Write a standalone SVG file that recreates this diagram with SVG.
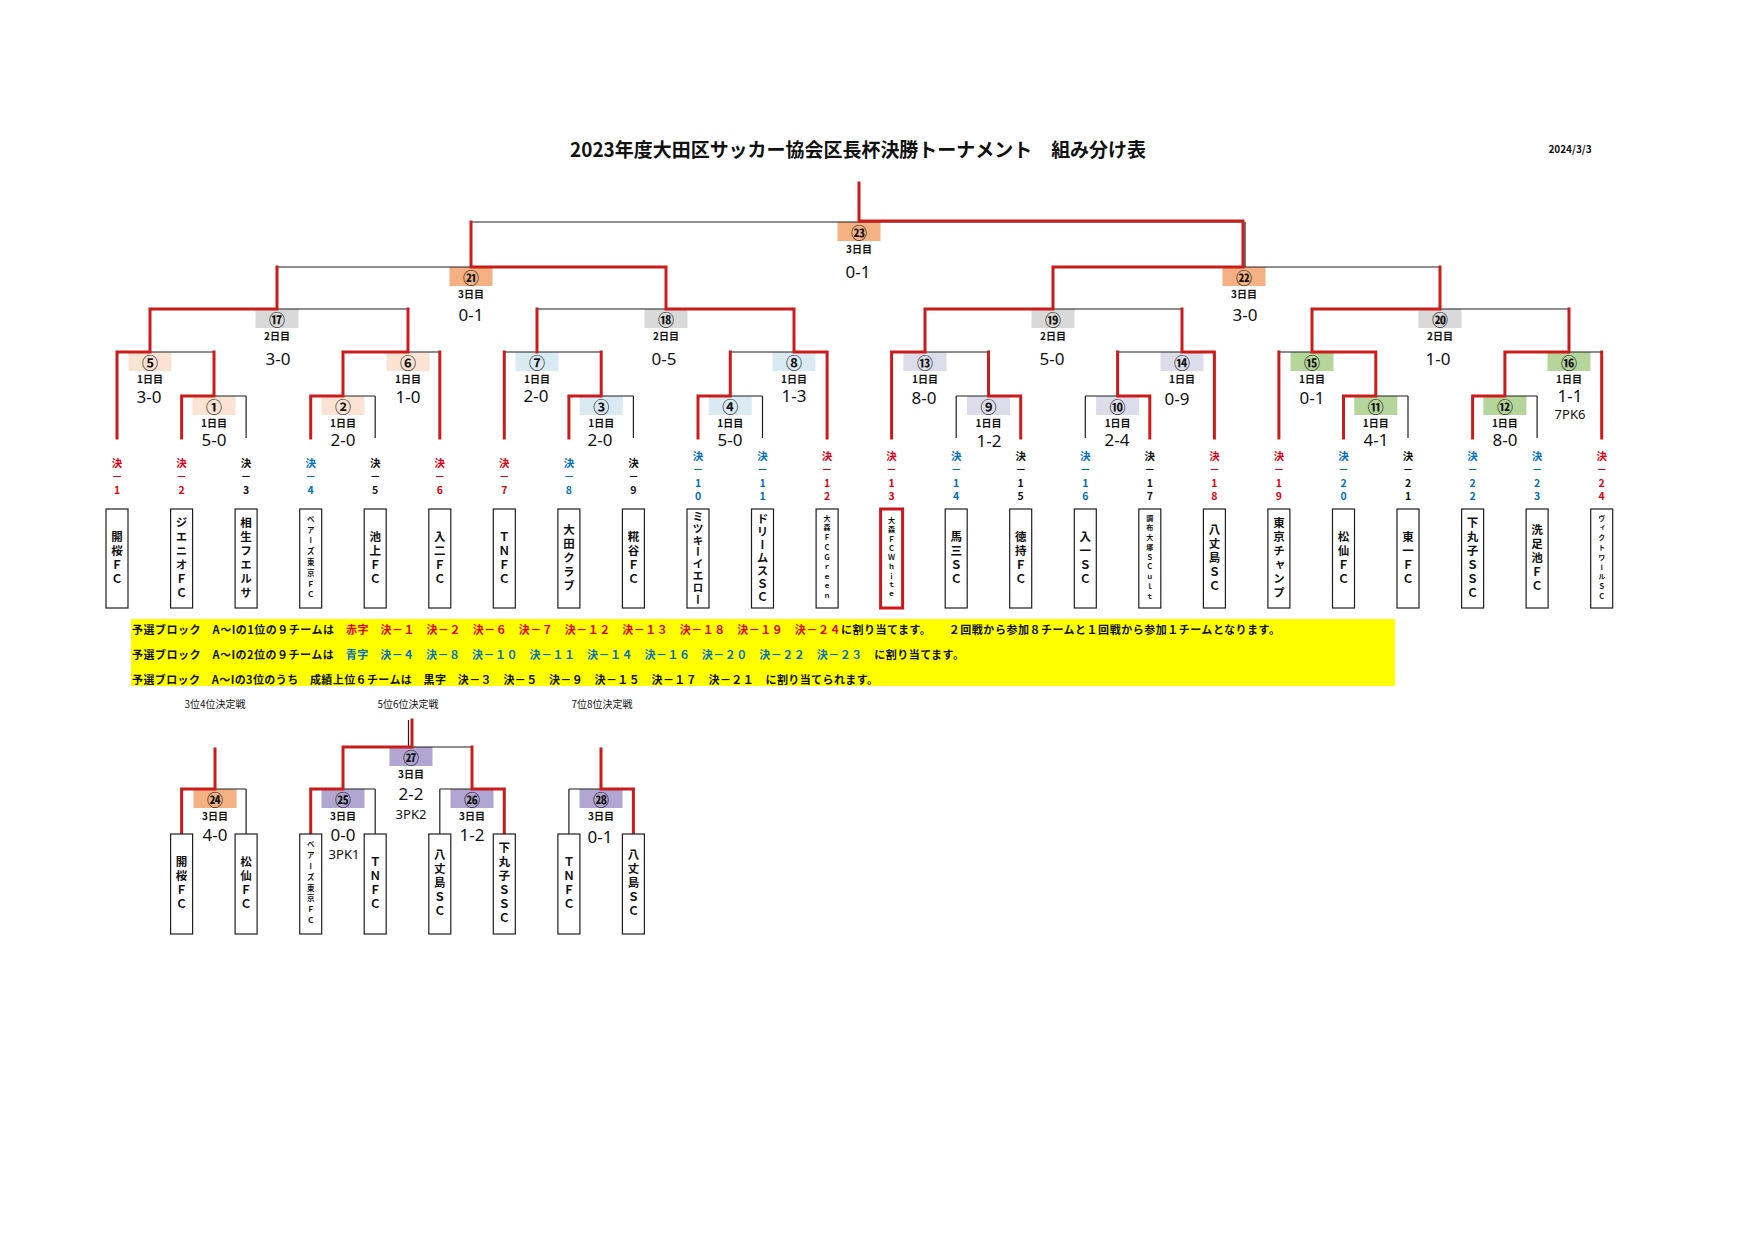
<svg xmlns="http://www.w3.org/2000/svg" width="1754" height="1240" viewBox="0 0 1754 1240">
<style>
text{font-family:"Noto Sans CJK JP","Noto Sans",sans-serif;fill:#111}
.k{stroke:#1e1e1e;stroke-width:1.2;fill:none}
.r{stroke:#cc1b1b;stroke-width:3;fill:none;stroke-linecap:square;stroke-linejoin:miter}
.o{fill:#f4b183}.g{fill:#d9d9d9}.p{fill:#fbe3d3}.b{fill:#d9eaf3}.v{fill:#dcdcea}.gr{fill:#b5d59a}.pu{fill:#b1a5d2}
.cn{font-size:16px;font-weight:bold;text-anchor:middle;dominant-baseline:central}
.dy{font-size:10px;font-weight:bold;text-anchor:middle;dominant-baseline:central}
.sc{font-family:"Noto Sans","Open Sans",sans-serif;font-size:17px;text-anchor:middle;dominant-baseline:central}
.pk{font-family:"Noto Sans","Open Sans",sans-serif;font-size:13px;text-anchor:middle;dominant-baseline:central}
.sd{font-size:10.5px;font-weight:bold;text-anchor:middle;dominant-baseline:central}
.red{fill:#e60012}.blu{fill:#0070c0}
.box{fill:#fff;stroke:#1e1e1e;stroke-width:1.2}
.boxr{fill:#fff;stroke:#d0161d;stroke-width:3}
.tn,.tn7,.tn8,.ts,.ts8,.tsw{writing-mode:vertical-rl;text-orientation:upright;text-anchor:middle;font-weight:bold}
.tn{font-size:11.5px;letter-spacing:2.5px}
.tn7{font-size:11.5px;letter-spacing:1.5px}
.tn8{font-size:11px;letter-spacing:0.8px}
.ts{font-size:7px;letter-spacing:2.8px}
.tsw{font-size:7px;letter-spacing:2.2px}
.ts8{font-size:7.5px;letter-spacing:3.3px}
.band{font-size:11px;font-weight:bold;dominant-baseline:central}
.sub{font-size:10px;text-anchor:middle;dominant-baseline:central}
</style>

<g id="title">
<text x="858" y="148" font-size="19.5" font-weight="bold" text-anchor="middle" dominant-baseline="central" textLength="576" lengthAdjust="spacingAndGlyphs">2023年度大田区サッカー協会区長杯決勝トーナメント　組み分け表</text>
<text x="1570" y="148" font-size="10" font-weight="bold" text-anchor="middle" dominant-baseline="central">2024/3/3</text>
</g>

<g id="nodes">
<g id="m23"><rect class="o" x="837.5" y="222" width="43" height="19"/><text class="cn" x="859" y="231.5">㉓</text><text class="dy" x="859" y="248">3日目</text><text class="sc" x="858" y="271">0-1</text></g>
<g id="m21"><rect class="o" x="449.5" y="267" width="43" height="19"/><text class="cn" x="471" y="276.5">㉑</text><text class="dy" x="471" y="293">3日目</text><text class="sc" x="471" y="314">0-1</text></g>
<g id="m22"><rect class="o" x="1222.5" y="267" width="43" height="19"/><text class="cn" x="1244" y="276.5">㉒</text><text class="dy" x="1244" y="293">3日目</text><text class="sc" x="1245" y="314">3-0</text></g>
<g id="m17"><rect class="g" x="255.5" y="309" width="43" height="19"/><text class="cn" x="277" y="318.5">⑰</text><text class="dy" x="277" y="335">2日目</text><text class="sc" x="278" y="358">3-0</text></g>
<g id="m18"><rect class="g" x="644.5" y="309" width="43" height="19"/><text class="cn" x="666" y="318.5">⑱</text><text class="dy" x="666" y="335">2日目</text><text class="sc" x="664" y="358">0-5</text></g>
<g id="m19"><rect class="g" x="1031.5" y="309" width="43" height="19"/><text class="cn" x="1053" y="318.5">⑲</text><text class="dy" x="1053" y="335">2日目</text><text class="sc" x="1052" y="358">5-0</text></g>
<g id="m20"><rect class="g" x="1418.5" y="309" width="43" height="19"/><text class="cn" x="1440" y="318.5">⑳</text><text class="dy" x="1440" y="335">2日目</text><text class="sc" x="1438" y="358">1-0</text></g>
<g id="m05"><rect class="p" x="128.5" y="352" width="43" height="19"/><text class="cn" x="150" y="361.5">⑤</text><text class="dy" x="150" y="378">1日目</text><text class="sc" x="149" y="396">3-0</text></g>
<g id="m06"><rect class="p" x="386.5" y="352" width="43" height="19"/><text class="cn" x="408" y="361.5">⑥</text><text class="dy" x="408" y="378">1日目</text><text class="sc" x="408" y="396">1-0</text></g>
<g id="m07"><rect class="b" x="515.5" y="352" width="43" height="19"/><text class="cn" x="537" y="361.5">⑦</text><text class="dy" x="537" y="378">1日目</text><text class="sc" x="536" y="395">2-0</text></g>
<g id="m08"><rect class="b" x="772.5" y="352" width="43" height="19"/><text class="cn" x="794" y="361.5">⑧</text><text class="dy" x="794" y="378">1日目</text><text class="sc" x="794" y="395">1-3</text></g>
<g id="m13"><rect class="v" x="903.5" y="352" width="43" height="19"/><text class="cn" x="925" y="361.5">⑬</text><text class="dy" x="925" y="378">1日目</text><text class="sc" x="924" y="397">8-0</text></g>
<g id="m14"><rect class="v" x="1160.5" y="352" width="43" height="19"/><text class="cn" x="1182" y="361.5">⑭</text><text class="dy" x="1182" y="378">1日目</text><text class="sc" x="1177" y="398">0-9</text></g>
<g id="m15"><rect class="gr" x="1290.5" y="352" width="43" height="19"/><text class="cn" x="1312" y="361.5">⑮</text><text class="dy" x="1312" y="378">1日目</text><text class="sc" x="1312" y="397">0-1</text></g>
<g id="m16"><rect class="gr" x="1547.5" y="352" width="43" height="19"/><text class="cn" x="1569" y="361.5">⑯</text><text class="dy" x="1569" y="378">1日目</text><text class="sc" x="1570" y="395">1-1</text><text class="pk" x="1570" y="414">7PK6</text></g>
<g id="m01"><rect class="p" x="192.5" y="396" width="43" height="19"/><text class="cn" x="214" y="405.5">①</text><text class="dy" x="214" y="422">1日目</text><text class="sc" x="214" y="439">5-0</text></g>
<g id="m02"><rect class="p" x="321.5" y="396" width="43" height="19"/><text class="cn" x="343" y="405.5">②</text><text class="dy" x="343" y="422">1日目</text><text class="sc" x="343" y="439">2-0</text></g>
<g id="m03"><rect class="b" x="579.7" y="396" width="43" height="19"/><text class="cn" x="601.2" y="405.5">③</text><text class="dy" x="601.2" y="422">1日目</text><text class="sc" x="600" y="439">2-0</text></g>
<g id="m04"><rect class="b" x="708.8" y="396" width="43" height="19"/><text class="cn" x="730.3" y="405.5">④</text><text class="dy" x="730.3" y="422">1日目</text><text class="sc" x="730" y="439">5-0</text></g>
<g id="m09"><rect class="v" x="967" y="396" width="43" height="19"/><text class="cn" x="988.5" y="405.5">⑨</text><text class="dy" x="988.5" y="422">1日目</text><text class="sc" x="989" y="440">1-2</text></g>
<g id="m10"><rect class="v" x="1096.1" y="396" width="43" height="19"/><text class="cn" x="1117.6" y="405.5">⑩</text><text class="dy" x="1117.6" y="422">1日目</text><text class="sc" x="1117" y="439">2-4</text></g>
<g id="m11"><rect class="gr" x="1354.3" y="396" width="43" height="19"/><text class="cn" x="1375.8" y="405.5">⑪</text><text class="dy" x="1375.8" y="422">1日目</text><text class="sc" x="1376" y="439">4-1</text></g>
<g id="m12"><rect class="gr" x="1483.4" y="396" width="43" height="19"/><text class="cn" x="1504.9" y="405.5">⑫</text><text class="dy" x="1504.9" y="422">1日目</text><text class="sc" x="1505" y="439">8-0</text></g>
<g id="m27"><rect class="pu" x="389.5" y="747" width="43" height="19"/><text class="cn" x="411" y="756.5">㉗</text><text class="dy" x="411" y="773">3日目</text><text class="sc" x="411" y="793" font-size="16">2-2</text><text class="pk" x="411" y="814" font-size="12.5">3PK2</text></g>
<g id="m24"><rect class="o" x="193.5" y="789" width="43" height="19"/><text class="cn" x="215" y="798.5">㉔</text><text class="dy" x="215" y="815">3日目</text><text class="sc" x="215" y="834">4-0</text></g>
<g id="m25"><rect class="pu" x="321.5" y="789" width="43" height="19"/><text class="cn" x="343" y="798.5">㉕</text><text class="dy" x="343" y="815">3日目</text><text class="sc" x="343" y="834">0-0</text><text class="pk" x="344" y="854">3PK1</text></g>
<g id="m26"><rect class="pu" x="450.5" y="789" width="43" height="19"/><text class="cn" x="472" y="798.5">㉖</text><text class="dy" x="472" y="815">3日目</text><text class="sc" x="472" y="834">1-2</text></g>
<g id="m28"><rect class="pu" x="579.5" y="789" width="43" height="19"/><text class="cn" x="601" y="798.5">㉘</text><text class="dy" x="601" y="815">3日目</text><text class="sc" x="600" y="836">0-1</text></g>
</g>

<g id="connectors">
<path class="k" d="M859 183V222M471 222H1244M471 222V267M1245 222V267M277 267H666M1053 267H1440M277 267V309M666 267V309M1053 267V309M1440 267V309M150 309H408M537 309H794M925 309H1182M1312 309H1569M150 309V352M408 309V352M537 309V352M794 309V352M925 309V352M1182 309V352M1312 309V352M1569 309V352M117 352H214M343 352H439.8M504.3 352H601.2M730.3 352H827.1M891.6 352H988.5M1117.6 352H1214.4M1278.9 352H1375.8M1504.9 352H1601.7M117 352V438M439.8 352V438M504.3 352V438M827.1 352V438M891.6 352V438M1214.4 352V438M1278.9 352V438M1601.7 352V438M214 352V396M343 352V396M601.2 352V396M730.3 352V396M988.5 352V396M1117.6 352V396M1375.8 352V396M1504.9 352V396M181.6 396H246.1M310.7 396H375.2M568.9 396H633.4M698 396H762.5M956.2 396H1020.7M1085.3 396H1149.8M1343.5 396H1408M1472.6 396H1537.1M181.6 396V438M246.1 396V438M310.7 396V438M375.2 396V438M568.9 396V438M633.4 396V438M698 396V438M762.5 396V438M956.2 396V438M1020.7 396V438M1085.3 396V438M1149.8 396V438M1343.5 396V438M1408 396V438M1472.6 396V438M1537.1 396V438"/>
<path class="r" d="M859 183V221H1243V267M471 222V267H666V309M277 267V309M1053 309V267H1243M1440 267V309M150 352V309H277M408 309V352M537 309V352M666 309H794V352M925 352V309H1053M1182 309V352M1312 352V309H1440M1569 309V352M117 438V352H150M214 352V396M343 396V352H408M439.8 352V438M504.3 352V438M601.2 352V396M730.3 396V352M794 352H827.1V438M891.6 438V352H925M988.5 352V396M1117.6 396V352M1182 352H1214.4V438M1278.9 352V438M1312 352H1375.8V396M1504.9 396V352H1569M1601.7 352V438M181.6 438V396H214M310.7 438V396H343M568.9 438V396H601.2M698 438V396H730.3M988.5 396H1020.7V438M1117.6 396H1149.8V438M1343.5 438V396H1375.8M1472.6 438V396H1504.9"/>
<path class="k" d="M408.5 720V747M343 747H472M343 747V789M472 747V789M215 749V789M181.6 789H246.1M181.6 789V834M246.1 789V834M310.7 789H375.2M310.7 789V834M375.2 789V834M439.8 789H504.3M439.8 789V834M504.3 789V834M601 749V789M568.9 789H633.4M568.9 789V834M633.4 789V834"/>
<path class="r" d="M412 720V747H343V789H310.7V834M472 747V789H504.3V834M215 749V789H181.6V834M601 749V789H633.4V834"/>
</g>

<g id="seeds">
<text class="sd red"><tspan x="117" y="462">決</tspan><tspan x="117" y="475">－</tspan><tspan x="117" y="489">1</tspan></text>
<text class="sd red"><tspan x="181.6" y="462">決</tspan><tspan x="181.6" y="475">－</tspan><tspan x="181.6" y="489">2</tspan></text>
<text class="sd"><tspan x="246.1" y="462">決</tspan><tspan x="246.1" y="475">－</tspan><tspan x="246.1" y="489">3</tspan></text>
<text class="sd blu"><tspan x="310.7" y="462">決</tspan><tspan x="310.7" y="475">－</tspan><tspan x="310.7" y="489">4</tspan></text>
<text class="sd"><tspan x="375.2" y="462">決</tspan><tspan x="375.2" y="475">－</tspan><tspan x="375.2" y="489">5</tspan></text>
<text class="sd red"><tspan x="439.8" y="462">決</tspan><tspan x="439.8" y="475">－</tspan><tspan x="439.8" y="489">6</tspan></text>
<text class="sd red"><tspan x="504.3" y="462">決</tspan><tspan x="504.3" y="475">－</tspan><tspan x="504.3" y="489">7</tspan></text>
<text class="sd blu"><tspan x="568.9" y="462">決</tspan><tspan x="568.9" y="475">－</tspan><tspan x="568.9" y="489">8</tspan></text>
<text class="sd"><tspan x="633.4" y="462">決</tspan><tspan x="633.4" y="475">－</tspan><tspan x="633.4" y="489">9</tspan></text>
<text class="sd blu"><tspan x="698" y="455">決</tspan><tspan x="698" y="468">－</tspan><tspan x="698" y="482">1</tspan><tspan x="698" y="495">0</tspan></text>
<text class="sd blu"><tspan x="762.5" y="455">決</tspan><tspan x="762.5" y="468">－</tspan><tspan x="762.5" y="482">1</tspan><tspan x="762.5" y="495">1</tspan></text>
<text class="sd red"><tspan x="827.1" y="455">決</tspan><tspan x="827.1" y="468">－</tspan><tspan x="827.1" y="482">1</tspan><tspan x="827.1" y="495">2</tspan></text>
<text class="sd red"><tspan x="891.6" y="455">決</tspan><tspan x="891.6" y="468">－</tspan><tspan x="891.6" y="482">1</tspan><tspan x="891.6" y="495">3</tspan></text>
<text class="sd blu"><tspan x="956.2" y="455">決</tspan><tspan x="956.2" y="468">－</tspan><tspan x="956.2" y="482">1</tspan><tspan x="956.2" y="495">4</tspan></text>
<text class="sd"><tspan x="1020.7" y="455">決</tspan><tspan x="1020.7" y="468">－</tspan><tspan x="1020.7" y="482">1</tspan><tspan x="1020.7" y="495">5</tspan></text>
<text class="sd blu"><tspan x="1085.3" y="455">決</tspan><tspan x="1085.3" y="468">－</tspan><tspan x="1085.3" y="482">1</tspan><tspan x="1085.3" y="495">6</tspan></text>
<text class="sd"><tspan x="1149.8" y="455">決</tspan><tspan x="1149.8" y="468">－</tspan><tspan x="1149.8" y="482">1</tspan><tspan x="1149.8" y="495">7</tspan></text>
<text class="sd red"><tspan x="1214.4" y="455">決</tspan><tspan x="1214.4" y="468">－</tspan><tspan x="1214.4" y="482">1</tspan><tspan x="1214.4" y="495">8</tspan></text>
<text class="sd red"><tspan x="1278.9" y="455">決</tspan><tspan x="1278.9" y="468">－</tspan><tspan x="1278.9" y="482">1</tspan><tspan x="1278.9" y="495">9</tspan></text>
<text class="sd blu"><tspan x="1343.5" y="455">決</tspan><tspan x="1343.5" y="468">－</tspan><tspan x="1343.5" y="482">2</tspan><tspan x="1343.5" y="495">0</tspan></text>
<text class="sd"><tspan x="1408" y="455">決</tspan><tspan x="1408" y="468">－</tspan><tspan x="1408" y="482">2</tspan><tspan x="1408" y="495">1</tspan></text>
<text class="sd blu"><tspan x="1472.6" y="455">決</tspan><tspan x="1472.6" y="468">－</tspan><tspan x="1472.6" y="482">2</tspan><tspan x="1472.6" y="495">2</tspan></text>
<text class="sd blu"><tspan x="1537.1" y="455">決</tspan><tspan x="1537.1" y="468">－</tspan><tspan x="1537.1" y="482">2</tspan><tspan x="1537.1" y="495">3</tspan></text>
<text class="sd red"><tspan x="1601.7" y="455">決</tspan><tspan x="1601.7" y="468">－</tspan><tspan x="1601.7" y="482">2</tspan><tspan x="1601.7" y="495">4</tspan></text>
</g>

<g id="teams">
<g id="t01"><rect class="box" x="106" y="509" width="22" height="99"/><text class="tn" x="117" y="558.5">開桜ＦＣ</text></g>
<g id="t02"><rect class="box" x="170.6" y="509" width="22" height="99"/><text class="tn" x="181.6" y="558.5">ジエニオＦＣ</text></g>
<g id="t03"><rect class="box" x="235.1" y="509" width="22" height="99"/><text class="tn" x="246.1" y="558.5">相生フエルサ</text></g>
<g id="t04"><rect class="box" x="299.7" y="509" width="22" height="99"/><text class="ts8" x="310.7" y="558.5">ベアーズ東京ＦＣ</text></g>
<g id="t05"><rect class="box" x="364.2" y="509" width="22" height="99"/><text class="tn" x="375.2" y="558.5">池上ＦＣ</text></g>
<g id="t06"><rect class="box" x="428.8" y="509" width="22" height="99"/><text class="tn" x="439.8" y="558.5">入二ＦＣ</text></g>
<g id="t07"><rect class="box" x="493.3" y="509" width="22" height="99"/><text class="tn" x="504.3" y="558.5">ＴＮＦＣ</text></g>
<g id="t08"><rect class="box" x="557.9" y="509" width="22" height="99"/><text class="tn" x="568.9" y="558.5">大田クラブ</text></g>
<g id="t09"><rect class="box" x="622.4" y="509" width="22" height="99"/><text class="tn" x="633.4" y="558.5">糀谷ＦＣ</text></g>
<g id="t10"><rect class="box" x="687" y="509" width="22" height="99"/><text class="tn8" x="698" y="558.5">ミツキーイエロー</text></g>
<g id="t11"><rect class="box" x="751.5" y="509" width="22" height="99"/><text class="tn7" x="762.5" y="558.5">ドリームスＳＣ</text></g>
<g id="t12"><rect class="box" x="816.1" y="509" width="22" height="99"/><text class="ts" x="827.1" y="558.5">大森ＦＣＧｒｅｅｎ</text></g>
<g id="t13"><rect class="boxr" x="880.6" y="509" width="22" height="99"/><text class="tsw" x="891.6" y="558.5">大森ＦＣＷｈｉｔｅ</text></g>
<g id="t14"><rect class="box" x="945.2" y="509" width="22" height="99"/><text class="tn" x="956.2" y="558.5">馬三ＳＣ</text></g>
<g id="t15"><rect class="box" x="1009.7" y="509" width="22" height="99"/><text class="tn" x="1020.7" y="558.5">徳持ＦＣ</text></g>
<g id="t16"><rect class="box" x="1074.3" y="509" width="22" height="99"/><text class="tn" x="1085.3" y="558.5">入一ＳＣ</text></g>
<g id="t17"><rect class="box" x="1138.8" y="509" width="22" height="99"/><text class="ts" x="1149.8" y="558.5">調布大塚ＳＣｕｌｔ</text></g>
<g id="t18"><rect class="box" x="1203.4" y="509" width="22" height="99"/><text class="tn" x="1214.4" y="558.5">八丈島ＳＣ</text></g>
<g id="t19"><rect class="box" x="1267.9" y="509" width="22" height="99"/><text class="tn" x="1278.9" y="558.5">東京チャンプ</text></g>
<g id="t20"><rect class="box" x="1332.5" y="509" width="22" height="99"/><text class="tn" x="1343.5" y="558.5">松仙ＦＣ</text></g>
<g id="t21"><rect class="box" x="1397" y="509" width="22" height="99"/><text class="tn" x="1408" y="558.5">東一ＦＣ</text></g>
<g id="t22"><rect class="box" x="1461.6" y="509" width="22" height="99"/><text class="tn" x="1472.6" y="558.5">下丸子ＳＳＣ</text></g>
<g id="t23"><rect class="box" x="1526.1" y="509" width="22" height="99"/><text class="tn" x="1537.1" y="558.5">洗足池ＦＣ</text></g>
<g id="t24"><rect class="box" x="1590.7" y="509" width="22" height="99"/><text class="ts" x="1601.7" y="558.5">ヴィクトワールＳＣ</text></g>
</g>

<g id="notes">
<rect x="131" y="619" width="1264" height="67" fill="#ffff00"/>
<text class="band" x="132" y="629" textLength="1148" lengthAdjust="spacing">予選ブロック　A～Iの1位の９チームは　<tspan class="red">赤字　決－１　決－２　決－６　決－７　決－１２　決－１３　決－１８　決－１９　決－２４</tspan>に割り当てます。　　２回戦から参加８チームと１回戦から参加１チームとなります。</text>
<text class="band" x="132" y="654" textLength="832" lengthAdjust="spacing">予選ブロック　A～Iの2位の９チームは　<tspan class="blu">青字　決－４　決－８　決－１０　決－１１　決－１４　決－１６　決－２０　決－２２　決－２３</tspan>　に割り当てます。</text>
<text class="band" x="132" y="679" textLength="746" lengthAdjust="spacing">予選ブロック　A～Iの3位のうち　成績上位６チームは　黒字　決－３　決－５　決－９　決－１５　決－１７　決－２１　に割り当てられます。</text>
<text class="sub" x="215" y="703">3位4位決定戦</text>
<text class="sub" x="408" y="703">5位6位決定戦</text>
<text class="sub" x="602" y="703">7位8位決定戦</text>
</g>

<g id="placement-teams">
<g id="b1"><rect class="box" x="170.6" y="834" width="22" height="100"/><text class="tn" x="181.6" y="884">開桜ＦＣ</text></g>
<g id="b2"><rect class="box" x="235.1" y="834" width="22" height="100"/><text class="tn" x="246.1" y="884">松仙ＦＣ</text></g>
<g id="b3"><rect class="box" x="299.7" y="834" width="22" height="100"/><text class="ts8" x="310.7" y="884">ベアーズ東京ＦＣ</text></g>
<g id="b4"><rect class="box" x="364.2" y="834" width="22" height="100"/><text class="tn" x="375.2" y="884">ＴＮＦＣ</text></g>
<g id="b5"><rect class="box" x="428.8" y="834" width="22" height="100"/><text class="tn" x="439.8" y="884">八丈島ＳＣ</text></g>
<g id="b6"><rect class="box" x="493.3" y="834" width="22" height="100"/><text class="tn" x="504.3" y="884">下丸子ＳＳＣ</text></g>
<g id="b7"><rect class="box" x="557.9" y="834" width="22" height="100"/><text class="tn" x="568.9" y="884">ＴＮＦＣ</text></g>
<g id="b8"><rect class="box" x="622.4" y="834" width="22" height="100"/><text class="tn" x="633.4" y="884">八丈島ＳＣ</text></g>
</g>
</svg>
